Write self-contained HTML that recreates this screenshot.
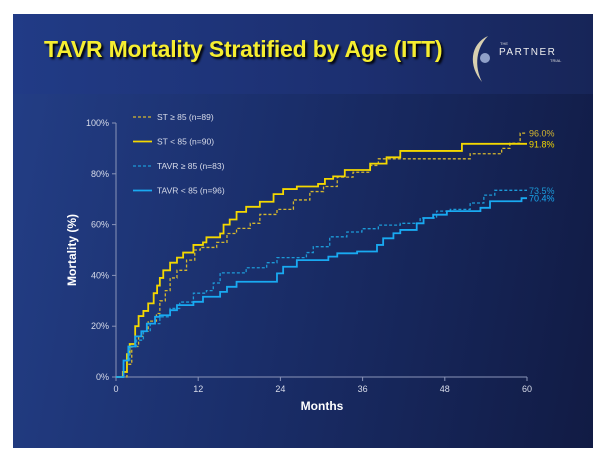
<!DOCTYPE html>
<html><head><meta charset="utf-8">
<style>
body{margin:0;width:604px;height:453px;background:#fff;overflow:hidden;font-family:"Liberation Sans",sans-serif}
#slide{position:absolute;left:13px;top:14px;width:580px;height:434px;background:linear-gradient(100deg,#233e86 0%,#1a2e6a 45%,#111b44 100%)}
#band{position:absolute;left:0;top:0;width:580px;height:80px;background:linear-gradient(90deg,#213b86,#1c2f70 60%,#172558)}
#title{position:absolute;left:31px;top:22px;font-size:23px;font-weight:bold;color:#f6ee30;text-shadow:2px 2px 2px #000;letter-spacing:-0.2px}
svg{position:absolute;left:0;top:0}
</style></head><body>
<div id="slide">
<div id="band"></div>
<div id="title">TAVR Mortality Stratified by Age (ITT)</div>
</div>
<svg id="chart" width="604" height="453">
<g>
<path d="M488 36 C470 44 468 66 482 82 C474 66 476 48 488 36Z" fill="#d8d0b0"/>
<circle cx="485" cy="58" r="5" fill="#8fa0c8"/>
<text x="500" y="45" font-size="4" fill="#ddd">THE</text>
<text x="499" y="55" font-size="10" fill="#eee" letter-spacing="1.5">PARTNER</text>
<text x="550" y="62" font-size="4" fill="#ddd">TRIAL</text>
</g>
</svg>
<script>
const xTicks=[0,12,24,36,48,60];
const yTicks=[0,20,40,60,80,100];
const seriesNames=["ST ≥ 85 (n=89)","ST < 85 (n=90)","TAVR ≥ 85 (n=83)","TAVR < 85 (n=96)"];
const stOld=[[0,0],[1.6,5],[2.3,12],[3.3,16],[4,18],[4.7,22],[5.9,25],[6.4,30],[7.2,34],[7.9,39],[8.9,42],[10.3,46],[11.5,50],[12.3,51],[14.7,53],[16.2,56.5],[17.6,58.5],[19.6,60.5],[21,64],[23.5,66],[25.9,69.7],[28.3,73],[30.3,75],[32.3,78.7],[34.6,80.6],[37.1,83.3],[38.3,85.9],[51.7,87.9],[56.3,90],[57.5,92],[59,96]];
const stYoung=[[0,0],[1,2],[1.6,9],[2,13],[2.8,20],[3.3,24],[4,26],[4.7,29],[5.5,33],[6,36],[6.4,39],[6.9,42],[7.9,45],[8.9,47],[9.8,49],[11.3,52],[12.7,53],[13.2,55],[15.2,56.5],[15.7,60],[16.6,62],[17.6,65],[19,67],[21,69],[23,72],[24.4,74],[26.4,75],[29.5,76],[30.5,78],[31.7,79],[33.4,81.5],[37.1,84],[39.5,86.5],[41.5,89],[50.5,91.8]];
const tavrOld=[[0,0],[1.1,6.5],[2,12],[3,14.5],[4,18],[5,21],[6.4,23.7],[7.9,27],[9.3,29.5],[11.3,33],[13.2,34],[14.2,37],[15.2,41],[19,43],[22,45],[23.5,47],[27.8,49],[28.8,51.3],[31.2,55.2],[33.7,57.1],[35.9,58.4],[38.3,59.8],[41.5,60.5],[44.4,62.6],[46.8,65.3],[48.8,66],[51.7,68.5],[53.7,71.6],[55.3,73.5]];
const tavrYoung=[[0,0],[1.1,6.5],[1.8,12],[2.8,16],[3.7,18],[4.5,21],[5.7,23.7],[6.4,24.3],[7.9,26.3],[8.9,28.3],[11.3,29.6],[12.7,31.6],[15.2,33.5],[16.2,35.5],[17.6,37.5],[23.5,40.8],[24.4,43.4],[26.4,46],[31,47.4],[32.3,48.7],[35.2,49.4],[38.1,52],[39,54.6],[40.5,56.6],[41.5,57.9],[43.9,60.5],[44.9,62.6],[46.3,63.9],[48.3,65.3],[53.2,66.6],[54.6,69.2],[59.2,70.4]];
const endLabels=["96.0%","91.8%","73.5%","70.4%"];
const endValues=[96.0,91.8,73.5,70.4];

const X0=116,X1=527,Y0=377,Y1=123;
const xs=m=>X0+(m/60)*(X1-X0);
const ys=p=>Y0-(p/100)*(Y0-Y1);
const svg=document.getElementById('chart');
const NS="http://www.w3.org/2000/svg";
function mk(t,a){const e=document.createElementNS(NS,t);for(const k in a)e.setAttribute(k,a[k]);svg.appendChild(e);return e;}

const ax=mk('path',{d:`M${X0} ${Y1}V${Y0}H${X1}`,stroke:'#8a94b8','stroke-width':1,fill:'none'});


xTicks.forEach(t=>{
 const l=mk('line',{x1:xs(t),x2:xs(t),y1:Y0,y2:Y0+4,stroke:'#8a94b8'});
 
 
 const tx=mk('text',{x:xs(t),y:Y0+15,'font-size':9,fill:'#d8dcea','text-anchor':'middle'});
 tx.textContent=t;
 
 
});
yTicks.forEach(t=>{
 const l=mk('line',{x1:X0-4,x2:X0,y1:ys(t),y2:ys(t),stroke:'#8a94b8'});
 
 
 const tx=mk('text',{x:X0-7,y:ys(t)+3,'font-size':9,fill:'#d8dcea','text-anchor':'end'});
 tx.textContent=t+'%';
 
 
});
const xt=mk('text',{x:322,y:410,'font-size':12,'font-weight':'bold',fill:'#fff','text-anchor':'middle'});
xt.textContent='Months';


const yt=mk('text',{x:0,y:0,'font-size':12,'font-weight':'bold',fill:'#fff','text-anchor':'middle',transform:'translate(76,250) rotate(-90)'});
yt.textContent='Mortality (%)';



const all=[stOld,stYoung,tavrOld,tavrYoung];
const colors=['#d6b82e','#f4d800','#1c9ad8','#19aaf2'];
const dashes=['3,2','none','3,2','none'];
const names=['series-st-85-plus','series-st-under-85','series-tavr-85-plus','series-tavr-under-85'];
all.forEach((s,i)=>{
 let d=`M${xs(s[0][0])} ${ys(s[0][1])}`;
 for(let k=1;k<s.length;k++){d+=`H${xs(s[k][0])}V${ys(s[k][1])}`;}
 d+=`H${xs(60)}`;
 const p=mk('path',{d,stroke:colors[i],'stroke-width':i%2?1.8:1.3,fill:'none','stroke-dasharray':dashes[i]});
 
 
 const lab=mk('text',{x:xs(60)+2,y:ys(endValues[i])+3.5,'font-size':9,fill:colors[i]});
 lab.textContent=endLabels[i];
 
 
 const ly=117+i*24.5;
 const ll=mk('line',{x1:133,x2:152,y1:ly,y2:ly,stroke:colors[i],'stroke-width':i%2?1.8:1.3,'stroke-dasharray':dashes[i]});
 
 
 const lt=mk('text',{x:157,y:ly+3,'font-size':8.5,fill:'#d8dcea'});
 lt.textContent=seriesNames[i];
 
 
});
</script>
</body></html>
